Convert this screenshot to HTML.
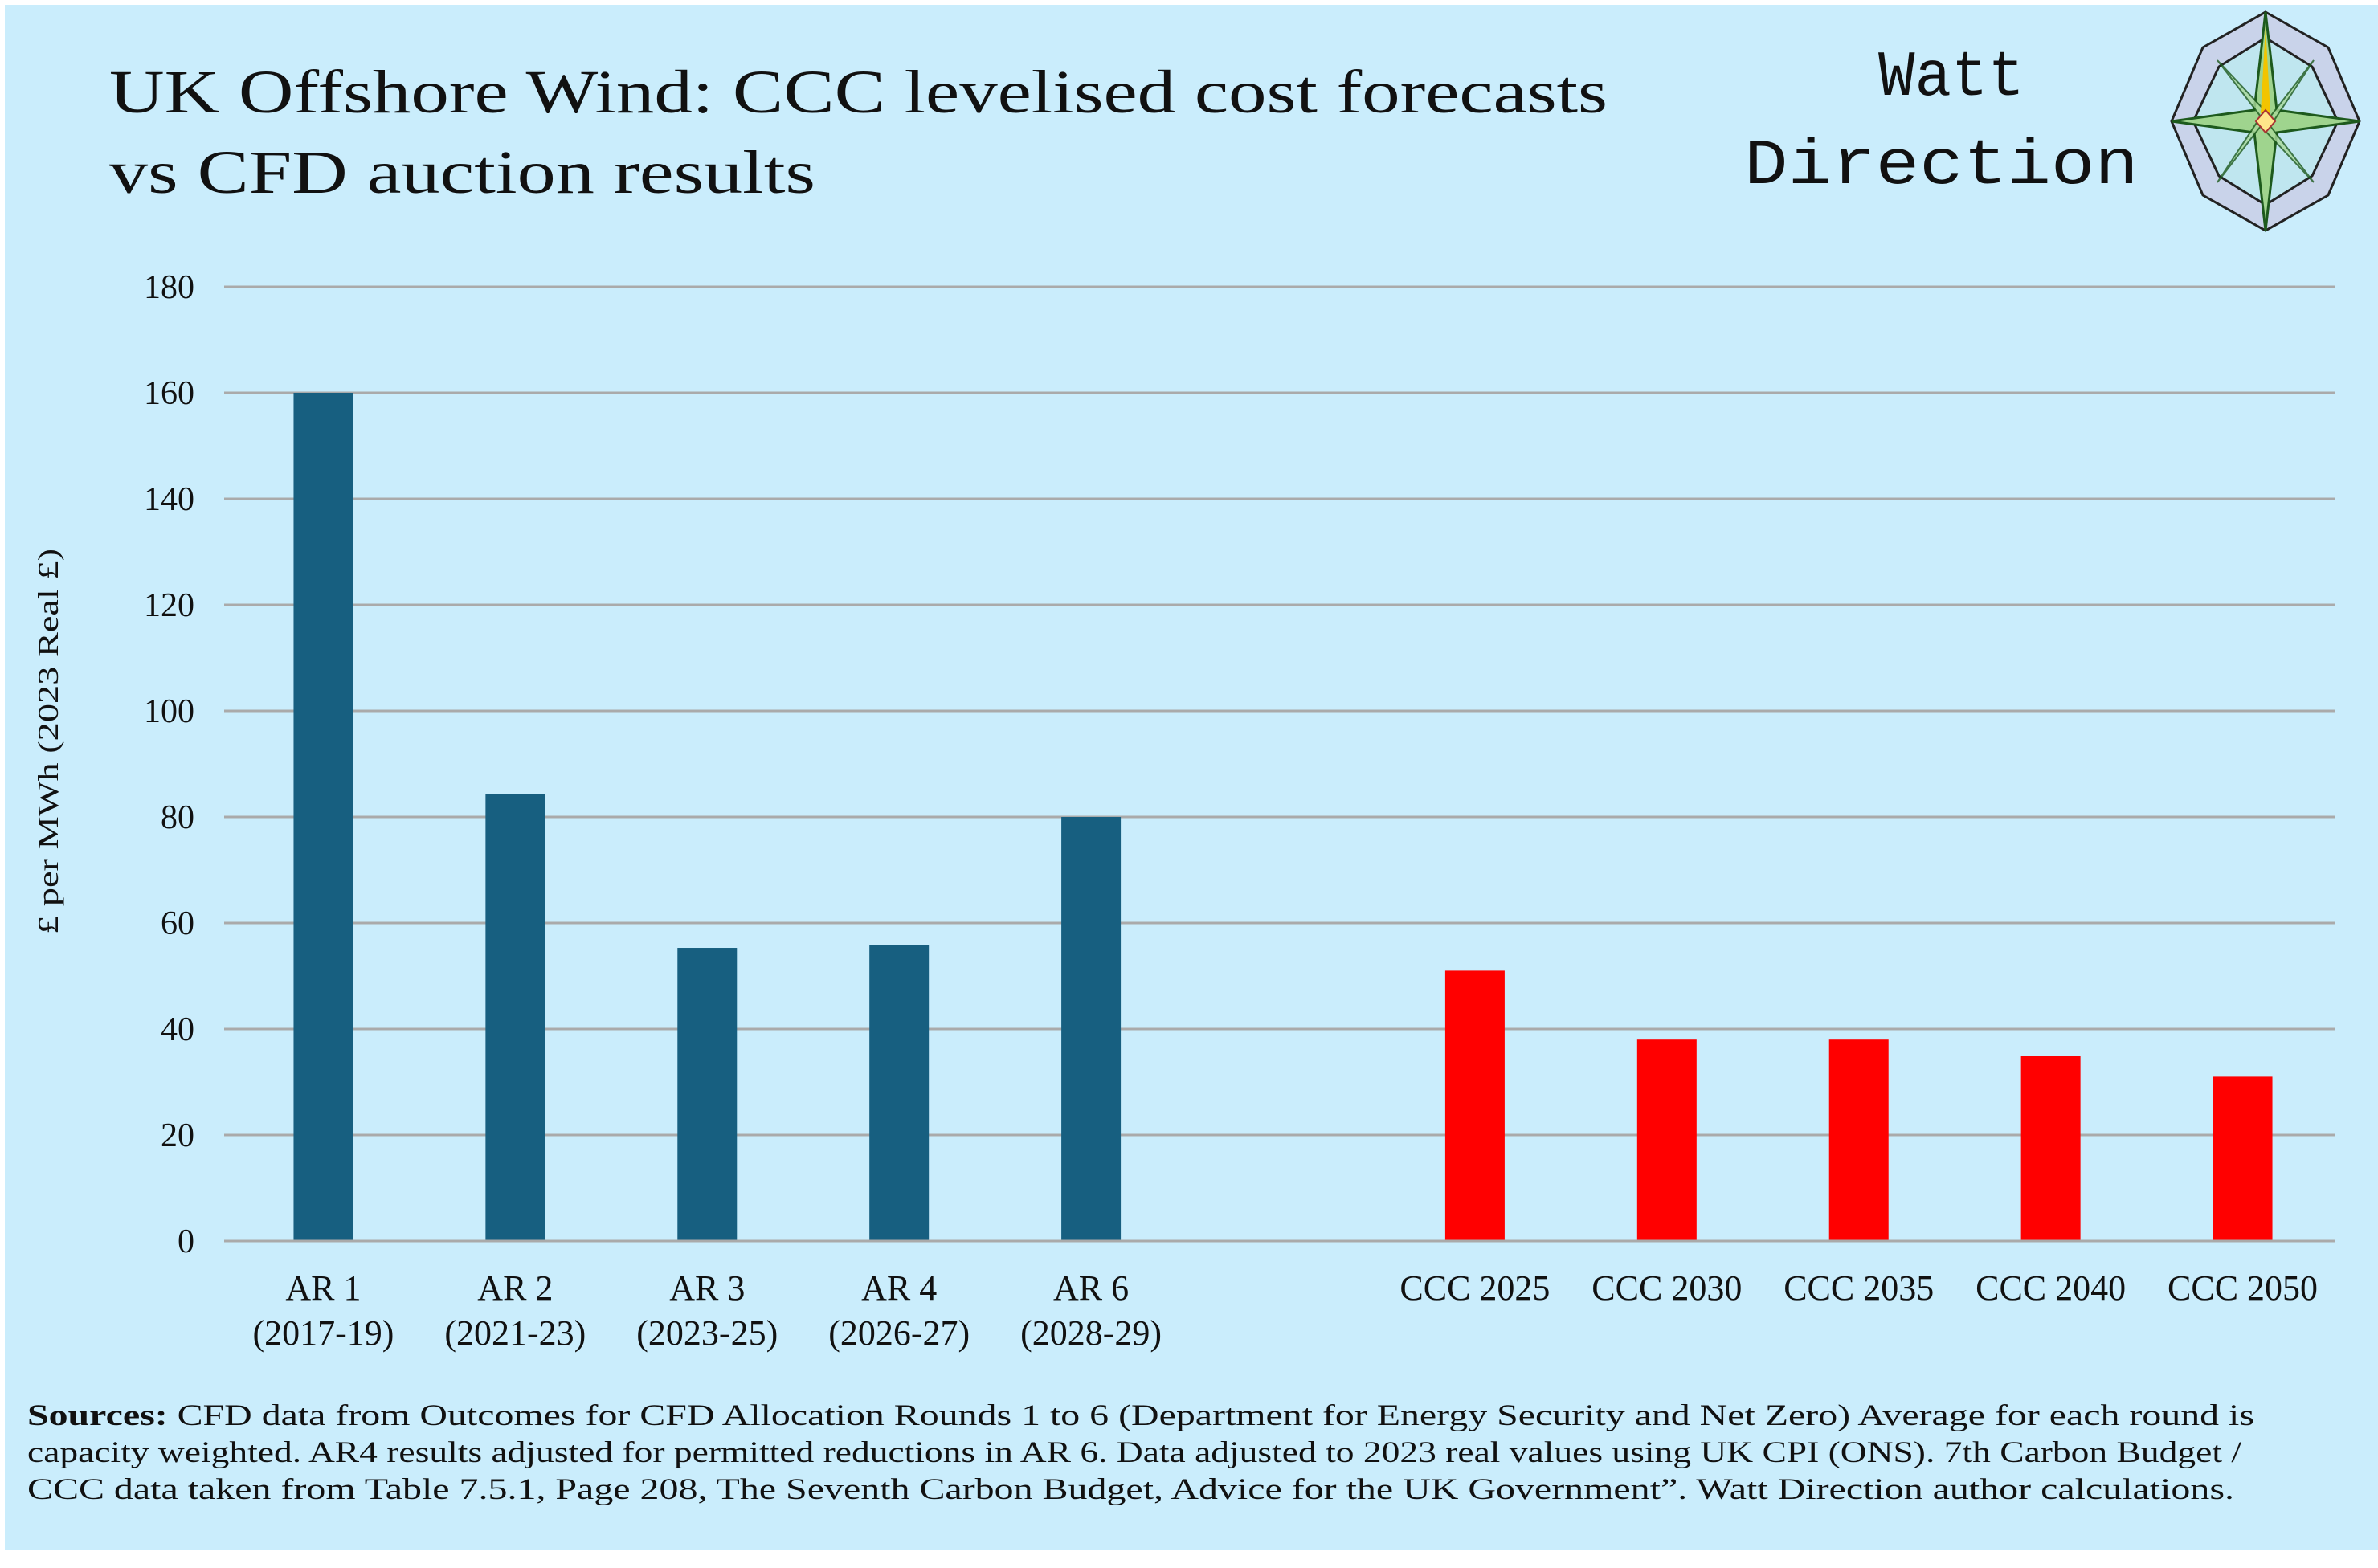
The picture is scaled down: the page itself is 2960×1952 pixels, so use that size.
<!DOCTYPE html>
<html><head><meta charset="utf-8">
<style>
html,body{margin:0;padding:0;background:#fff;}
#wrap{position:relative;width:2960px;height:1952px;overflow:hidden;background:#fff;}
#bg{position:absolute;left:6px;top:6px;width:2954px;height:1924px;background:#caedfc;}
svg{position:absolute;left:0;top:0;}
.t{font-family:"Liberation Serif",serif;fill:#111;}
.mono{font-family:"Liberation Mono",monospace;fill:#111;}
</style></head>
<body>
<div id="wrap">
<div id="bg"></div>
<svg id="chart" width="2960" height="1952">
  <text class="t" x="136" y="140" font-size="76" textLength="1865" lengthAdjust="spacingAndGlyphs">UK Offshore Wind: CCC levelised cost forecasts</text>
  <text class="t" x="136" y="240" font-size="76" textLength="879" lengthAdjust="spacingAndGlyphs">vs CFD auction results</text>
  <text class="mono" x="2338" y="118" font-size="80" textLength="182" lengthAdjust="spacingAndGlyphs">Watt</text>
  <text class="mono" x="2171" y="228" font-size="80" textLength="491" lengthAdjust="spacingAndGlyphs">Direction</text>
  <g transform="translate(2820,151)">
    <polygon points="0,-136 78,-92 117,0 78,92 0,136 -78,92 -117,0 -78,-92" fill="#c9d3ea" stroke="#222" stroke-width="3"/>
    <polygon points="0,-104 58,-68 90,0 58,68 0,104 -58,68 -90,0 -58,-68" fill="#bfe6ef" stroke="#222" stroke-width="3"/>
    <polygon points="0,-136 14,-14 117,0 14,14 0,136 -14,14 -117,0 -14,-14" fill="#9fd48e" stroke="#1d5a1d" stroke-width="3"/>
    <polygon points="-60,-76 6,-6 60,-76 6,6 60,76 -6,6 -60,76 -6,-6" fill="#a9d99a" stroke="#1d5a1d" stroke-width="2" opacity="0.8"/>
    <polygon points="0,-118 6,-10 -6,-10" fill="#f2c400"/>
    <polygon points="0,-14 12,0 0,14 -12,0" fill="#ffe68a" stroke="#a33" stroke-width="2"/>
  </g>
  <g id="grid"></g>
  <g id="yticks"></g>
  <g id="bars"></g>
  <g id="xlabels"></g>
  <text class="t" x="0" y="0" font-size="36" text-anchor="middle" textLength="480" lengthAdjust="spacingAndGlyphs" transform="translate(72,923) rotate(-90)">£ per MWh (2023 Real £)</text>
  <g>
    <text class="t" x="34" y="1774" font-size="37" textLength="2772" lengthAdjust="spacingAndGlyphs"><tspan font-weight="bold">Sources:</tspan> CFD data from Outcomes for CFD Allocation Rounds 1 to 6 (Department for Energy Security and Net Zero) Average for each round is</text>
    <text class="t" x="34" y="1820" font-size="37" textLength="2756" lengthAdjust="spacingAndGlyphs">capacity weighted. AR4 results adjusted for permitted reductions in AR 6. Data adjusted to 2023 real values using UK CPI (ONS).  7th Carbon Budget /</text>
    <text class="t" x="34" y="1866" font-size="37" textLength="2747" lengthAdjust="spacingAndGlyphs">CCC data taken from Table 7.5.1, Page 208, The Seventh Carbon Budget, Advice for the UK Government”. Watt Direction author calculations.</text>
  </g>
</svg>
</div>
<script>
const categories = ["AR 1|(2017-19)","AR 2|(2021-23)","AR 3|(2023-25)","AR 4|(2026-27)","AR 6|(2028-29)","","CCC 2025","CCC 2030","CCC 2035","CCC 2040","CCC 2050"];
const values = [160, 84.3, 55.3, 55.8, 80, null, 51, 38, 38, 35, 31];
const seriesType = ["cfd","cfd","cfd","cfd","cfd","","ccc","ccc","ccc","ccc","ccc"];
const yTicks = [0,20,40,60,80,100,120,140,160,180];

const NS="http://www.w3.org/2000/svg";
const plotLeft=279, plotRight=2907, plotTop=357, plotBottom=1545, yMax=180;
const yScale = v => plotBottom - (v/yMax)*(plotBottom-plotTop);
const step=(plotRight-plotLeft)/categories.length;
const xScale = i => plotLeft + 4 + step*(i+0.5);
const bw=74;
const colors={cfd:"#175f80",ccc:"#ff0000"};
function mk(tag,attrs,parent){const e=document.createElementNS(NS,tag);for(const k in attrs)e.setAttribute(k,attrs[k]);parent.appendChild(e);return e;}
const grid=document.getElementById('grid'), yt=document.getElementById('yticks'), bars=document.getElementById('bars'), xl=document.getElementById('xlabels');
yTicks.forEach(t=>{
  const l=mk('line',{x1:plotLeft,x2:plotRight,y1:yScale(t),y2:yScale(t),stroke:"#aaaaaa","stroke-width":3},grid);
  
  
  const tx=mk('text',{x:242,y:yScale(t)+14,"text-anchor":"end","font-size":42,class:"t"},yt);
  tx.textContent=t;
  
  
});
values.forEach((v,i)=>{
  if(v===null)return;
  const r=mk('rect',{x:xScale(i)-bw/2,y:yScale(v),width:bw,height:plotBottom-yScale(v)-1.5,fill:colors[seriesType[i]]},bars);
  
  
});
categories.forEach((c,i)=>{
  if(!c)return;
  c.split('|').forEach((ln,j)=>{
    const tx=mk('text',{x:xScale(i),y:1618+j*56,"text-anchor":"middle","font-size":44,class:"t"},xl);
    tx.textContent=ln;
    
    
  });
});
</script>
</body></html>
